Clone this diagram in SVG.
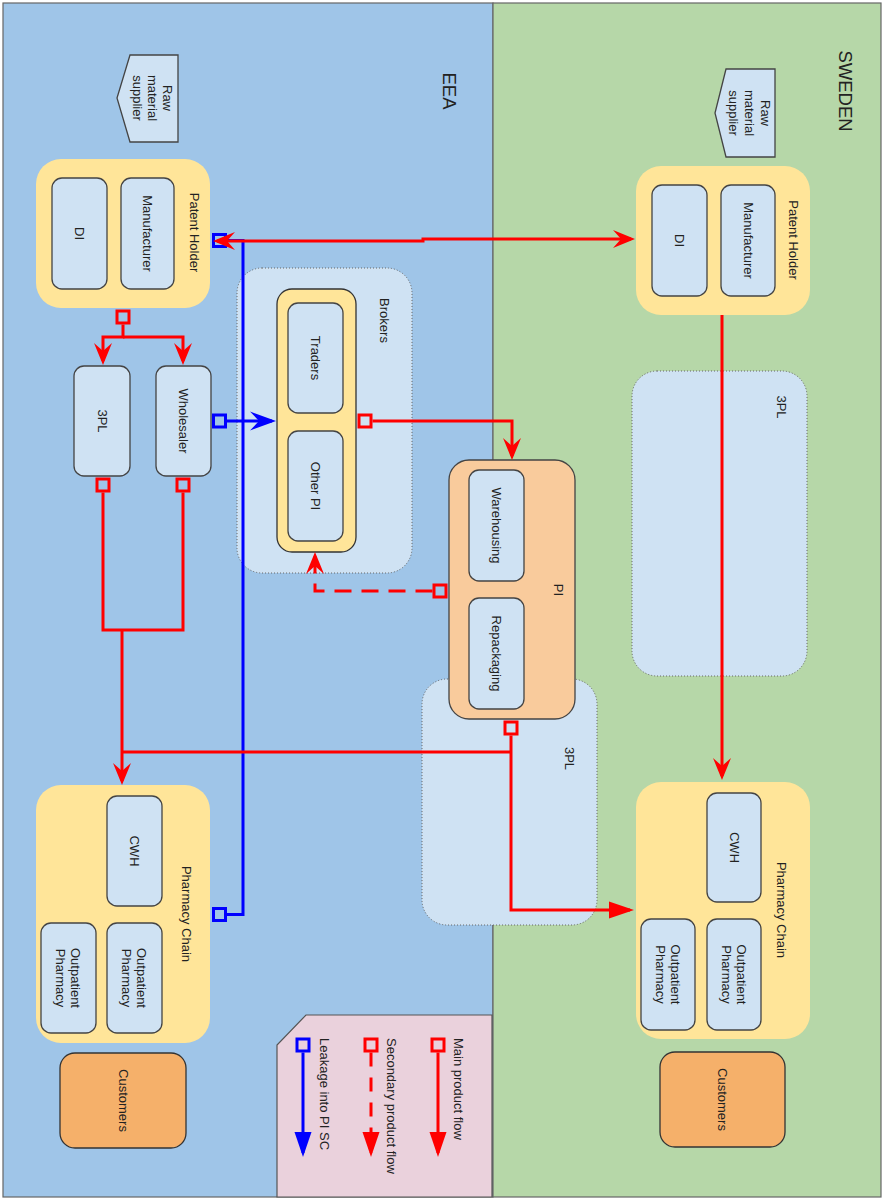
<svg xmlns="http://www.w3.org/2000/svg" width="883" height="1198" viewBox="0 0 883 1198">
<style>
text{font-family:"Liberation Sans",Arial,sans-serif;font-size:13px;fill:#222;text-anchor:middle;dominant-baseline:central}
.lane{stroke:#666;stroke-width:1.2}
.box{fill:#cfe2f3;stroke:#444;stroke-width:1.3}
.grp{fill:#ffe599;stroke:none}
.grps{fill:#ffe599;stroke:#333;stroke-width:1.3}
.cont{fill:#cfe2f3;stroke:#666;stroke-width:1;stroke-dasharray:1 2}
.pi{fill:#f9cb9c;stroke:#444;stroke-width:1.3}
.cust{fill:#f5b06a;stroke:#333;stroke-width:1.3}
.red{fill:none;stroke:#ff0000;stroke-width:3}
.blue{fill:none;stroke:#0000ff;stroke-width:3}
.sqR{fill:none;stroke:#ff0000;stroke-width:3}
.sqB{fill:none;stroke:#0000ff;stroke-width:3}
.big{font-size:18.5px}
.ls{text-anchor:start}
</style>
<defs>
<marker id="arrR" markerUnits="userSpaceOnUse" orient="auto-start-reverse" refX="-4" refY="0" overflow="visible"><path d="M0,0 L-22,-9 L-14,0 L-22,9 Z" fill="#ff0000"/></marker>
<marker id="arrB" markerUnits="userSpaceOnUse" orient="auto-start-reverse" refX="-4" refY="0" overflow="visible"><path d="M0,0 L-26,-9.5 L-17,0 L-26,9.5 Z" fill="#0000ff"/></marker>
<marker id="blkR" markerUnits="userSpaceOnUse" orient="auto" refX="-4" refY="0" overflow="visible"><path d="M0,0 L-25,-8.5 L-25,8.5 Z" fill="#ff0000"/></marker>
<marker id="blkB" markerUnits="userSpaceOnUse" orient="auto" refX="-4" refY="0" overflow="visible"><path d="M0,0 L-25,-8.5 L-25,8.5 Z" fill="#0000ff"/></marker>
</defs>

<g id="lanes">
<rect class="lane" x="3" y="3" width="490" height="1194" fill="#9fc5e8"/>
<rect class="lane" x="493" y="3" width="388" height="1194" fill="#b6d7a8"/>
<text class="big" transform="translate(449,91) rotate(90)">EEA</text>
<text class="big" transform="translate(845,91) rotate(90)">SWEDEN</text>
</g>

<g id="containers">
<g id="brokers"><rect class="cont" x="237" y="268" width="175" height="305" rx="25"/><text transform="translate(384,320.5) rotate(90)">Brokers</text></g>
<g id="eea-3pl-cont"><rect class="cont" x="422" y="679" width="175" height="246" rx="25"/><text transform="translate(569.5,758.5) rotate(90)">3PL</text></g>
<g id="se-3pl-cont"><rect class="cont" x="632" y="371" width="175" height="305" rx="25"/><text transform="translate(781,407) rotate(90)">3PL</text></g>
</g>

<g id="eea-raw"><path class="box" d="M130,55 H178 V142 H130 L117,98 Z"/><text transform="translate(153,98) rotate(90)"><tspan x="0" y="-15">Raw</tspan><tspan x="0" y="0">material</tspan><tspan x="0" y="15">supplier</tspan></text></g>
<g id="se-raw"><path class="box" d="M726,69 H775 V157 H726 L715,113 Z"/><text transform="translate(750,113) rotate(90)"><tspan x="0" y="-16">Raw</tspan><tspan x="0" y="0">material</tspan><tspan x="0" y="16">supplier</tspan></text></g>

<g id="eea-patent-holder">
<rect class="grp" x="36" y="159" width="174" height="149" rx="25"/>
<text transform="translate(194,232.5) rotate(90)">Patent Holder</text>
<rect class="box" x="121" y="178" width="53" height="111" rx="10"/><text transform="translate(147.5,233.5) rotate(90)">Manufacturer</text>
<rect class="box" x="52" y="178" width="55" height="111" rx="10"/><text transform="translate(79.5,233.5) rotate(90)">DI</text>
</g>
<g id="se-patent-holder">
<rect class="grp" x="636" y="166" width="174" height="149" rx="25"/>
<text transform="translate(793,240) rotate(90)">Patent Holder</text>
<rect class="box" x="721" y="185" width="54" height="111" rx="10"/><text transform="translate(748,240.5) rotate(90)">Manufacturer</text>
<rect class="box" x="652" y="185" width="55" height="111" rx="10"/><text transform="translate(679.5,240.5) rotate(90)">DI</text>
</g>

<g id="eea-3pl"><rect class="box" x="74" y="366" width="56" height="110" rx="10"/><text transform="translate(102,421) rotate(90)">3PL</text></g>
<g id="eea-wholesaler"><rect class="box" x="156" y="366" width="55" height="110" rx="10"/><text transform="translate(183.5,421) rotate(90)">Wholesaler</text></g>

<g id="brokers-inner">
<rect class="grps" x="277" y="289" width="79" height="263" rx="15"/>
<rect class="box" x="288" y="303" width="55" height="110" rx="10"/><text transform="translate(315.5,358) rotate(90)">Traders</text>
<rect class="box" x="288" y="431" width="55" height="110" rx="10"/><text transform="translate(315.5,486) rotate(90)">Other PI</text>
</g>

<g id="pi">
<rect class="pi" x="449" y="460" width="126" height="259" rx="20"/>
<text transform="translate(558,590) rotate(90)">PI</text>
<rect class="box" x="469" y="470" width="55" height="111" rx="10"/><text transform="translate(496.5,525.5) rotate(90)">Warehousing</text>
<rect class="box" x="469" y="598" width="55" height="111" rx="10"/><text transform="translate(496.5,653.5) rotate(90)">Repackaging</text>
</g>

<g id="eea-pharmacy-chain">
<rect class="grp" x="36" y="785" width="174" height="258" rx="25"/>
<text transform="translate(186.5,914) rotate(90)">Pharmacy Chain</text>
<rect class="box" x="107" y="796" width="55" height="110" rx="10"/><text transform="translate(134.5,851) rotate(90)">CWH</text>
<rect class="box" x="107" y="923" width="55" height="110" rx="10"/><text transform="translate(134.5,978) rotate(90)"><tspan x="0" y="-7.5">Outpatient</tspan><tspan x="0" y="7.5">Pharmacy</tspan></text>
<rect class="box" x="41" y="923" width="55" height="110" rx="10"/><text transform="translate(68.5,978) rotate(90)"><tspan x="0" y="-7.5">Outpatient</tspan><tspan x="0" y="7.5">Pharmacy</tspan></text>
</g>
<g id="eea-customers"><rect class="cust" x="60" y="1053" width="126" height="95" rx="15"/><text transform="translate(123,1100.5) rotate(90)">Customers</text></g>

<g id="se-pharmacy-chain">
<rect class="grp" x="636" y="782" width="174" height="257" rx="25"/>
<text transform="translate(781,910) rotate(90)">Pharmacy Chain</text>
<rect class="box" x="707" y="793" width="54" height="109" rx="10"/><text transform="translate(734,847.5) rotate(90)">CWH</text>
<rect class="box" x="707" y="919" width="54" height="111" rx="10"/><text transform="translate(734,974.5) rotate(90)"><tspan x="0" y="-7.5">Outpatient</tspan><tspan x="0" y="7.5">Pharmacy</tspan></text>
<rect class="box" x="641" y="919" width="54" height="111" rx="10"/><text transform="translate(668,974.5) rotate(90)"><tspan x="0" y="-7.5">Outpatient</tspan><tspan x="0" y="7.5">Pharmacy</tspan></text>
</g>
<g id="se-customers"><rect class="cust" x="660" y="1052" width="125" height="95" rx="15"/><text transform="translate(722.5,1099.5) rotate(90)">Customers</text></g>

<g id="connectors">
<path class="blue" d="M227,240.5 H243 V914.5 H227"/>
<rect class="sqB" x="213.5" y="234.5" width="12" height="12"/>
<rect class="sqB" x="213.5" y="908.5" width="12" height="12"/>
<path class="red" d="M217,241 H423 V239 H631" marker-start="url(#arrR)" marker-end="url(#arrR)"/>

<rect class="sqR" x="117" y="311" width="12" height="12"/>
<path class="red" d="M123,324.5 V337 H103 V361" marker-end="url(#arrR)"/>
<path class="red" d="M123,337 H183 V361" marker-end="url(#arrR)"/>

<rect class="sqR" x="97" y="479" width="12" height="12"/>
<rect class="sqR" x="177" y="479" width="12" height="12"/>
<path class="red" d="M103,492.5 V630 H183 V492.5"/>
<path class="red" d="M122,630 V781" marker-end="url(#arrR)"/>

<rect class="sqB" x="213.5" y="415" width="12" height="12"/>
<path class="blue" d="M227,421 H272" marker-end="url(#arrB)"/>

<rect class="sqR" x="359" y="415" width="12" height="12"/>
<path class="red" d="M372.5,421 H512 V456" marker-end="url(#arrR)"/>

<rect class="sqR" x="434" y="585" width="12" height="12"/>
<path class="red" d="M432.5,591 H315 V556" stroke-dasharray="17 10" marker-end="url(#arrR)"/>

<rect class="sqR" x="505" y="722" width="12" height="12"/>
<path class="red" d="M511,735.5 V910 H630" marker-end="url(#blkR)"/>
<path class="red" d="M511,752 H122"/>

<path class="red" d="M722,315 V776" marker-end="url(#arrR)"/>
</g>

<g id="legend">
<path d="M306,1015 H492 V1197 H277 V1045 Z" fill="#ead1dc" stroke="#555" stroke-width="1.2"/>
<rect class="sqR" x="432" y="1039" width="12" height="12"/>
<path class="red" d="M438,1052.5 V1153" marker-end="url(#blkR)"/>
<text class="ls" transform="translate(458,1038) rotate(90)">Main product flow</text>
<rect class="sqR" x="365" y="1039" width="12" height="12"/>
<path class="red" d="M371,1052.5 V1153" stroke-dasharray="14 11" marker-end="url(#blkR)"/>
<text class="ls" transform="translate(391,1038) rotate(90)">Secondary product flow</text>
<rect class="sqB" x="297" y="1039" width="12" height="12"/>
<path class="blue" d="M303,1052.5 V1153" marker-end="url(#blkB)"/>
<text class="ls" transform="translate(324,1038) rotate(90)">Leakage into PI SC</text>
</g>
</svg>
